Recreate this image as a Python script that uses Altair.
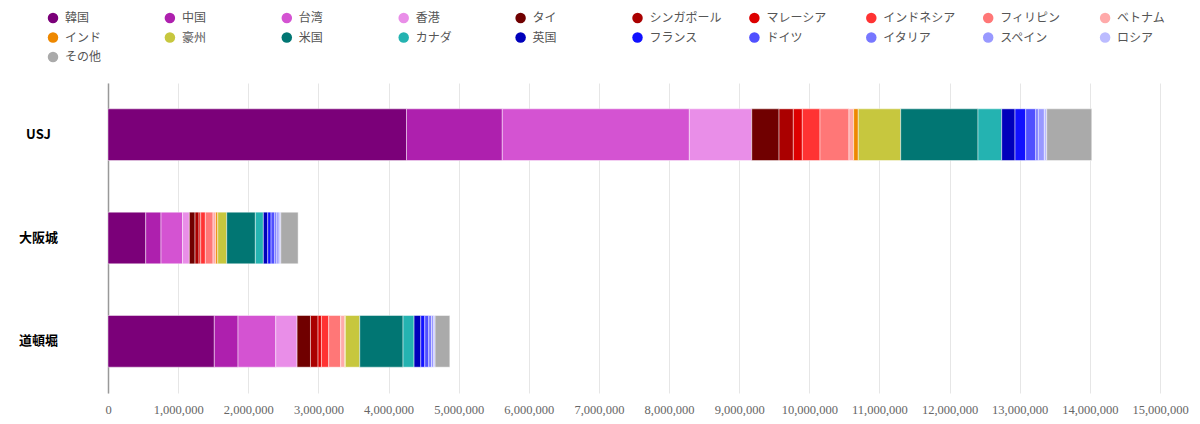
import altair as alt
import pandas as pd

places = ["USJ", "大阪城", "道頓堀"]
countries = ["韓国", "中国", "台湾", "香港", "タイ", "シンガポール", "マレーシア", "インドネシア",
             "フィリピン", "ベトナム", "インド", "豪州", "米国", "カナダ", "英国", "フランス",
             "ドイツ", "イタリア", "スペイン", "ロシア", "その他"]
colors = ["#7b0079", "#ae20ae", "#d453d2", "#e98ee8", "#700000", "#aa0000", "#dd0000", "#ff3333",
          "#ff7777", "#ffaaaa", "#ee8800", "#c7c73e", "#017673", "#24b3b1", "#0000bb", "#1111ff",
          "#5050ff", "#7777ff", "#9999ff", "#bbbbff", "#aaaaaa"]

usj = [4256000, 1366000, 2667000, 890000, 389000, 204000, 128000, 252000, 413000, 67000, 66000,
       605000, 1102000, 338000, 190000, 152000, 143000, 37000, 86000, 34000, 642000]
osakajo = [538000, 218000, 307000, 97000, 81000, 57000, 24000, 66000, 110000, 38000, 29000,
           128000, 408000, 114000, 63000, 47000, 53000, 29000, 33000, 24000, 247000]
dotonbori = [1516000, 338000, 538000, 304000, 191000, 108000, 48000, 104000, 171000, 57000, 10000,
             205000, 617000, 157000, 96000, 57000, 57000, 38000, 33000, 19000, 210000]
tick_values = [0, 1000000, 2000000, 3000000, 4000000, 5000000, 6000000, 7000000, 8000000,
               9000000, 10000000, 11000000, 12000000, 13000000, 14000000, 15000000]

rows = []
for place, vals in zip(places, [usj, osakajo, dotonbori]):
    for i, (c, v) in enumerate(zip(countries, vals)):
        rows.append({"place": place, "country": c, "value": v, "idx": i})
df = pd.DataFrame(rows)

FONT = "Noto Sans CJK JP"

chart = alt.Chart(df).mark_bar(
    stroke="#ffffff", strokeOpacity=0.45, strokeWidth=1
).encode(
    y=alt.Y("place:N", sort=places, title=None,
            scale=alt.Scale(paddingInner=0.5, paddingOuter=0.25),
            axis=alt.Axis(labelFont=FONT, labelFontSize=13, labelFontWeight="bold",
                          labelColor="#000000", labelAlign="center", labelPadding=70,
                          ticks=False, domain=True, domainColor="#999999", domainWidth=1.5,
                          grid=False)),
    x=alt.X("value:Q", title=None, stack="zero",
            scale=alt.Scale(domain=[0, 15000000], nice=False),
            axis=alt.Axis(values=tick_values, format=",d", labelOverlap=False, labelBound=False,
                          labelFlush=False,
                          labelFont="Liberation Sans Narrow", labelFontSize=12.5,
                          labelColor="#666666",
                          labelPadding=10, ticks=False, domain=False,
                          grid=True, gridColor="#e6e6e6", gridWidth=1)),
    color=alt.Color("country:N", sort=countries,
                    scale=alt.Scale(domain=countries, range=colors),
                    legend=alt.Legend(title=None, orient="none", legendX=-61, legendY=-71,
                                      columns=10, gridAlign="all", symbolType="circle",
                                      symbolSize=110, symbolStrokeWidth=0, labelFont=FONT,
                                      labelFontSize=12, labelColor="#555555", labelOffset=6,
                                      columnPadding=25.9, rowPadding=7.5, direction="horizontal")),
    order=alt.Order("idx:Q", sort="ascending"),
).properties(
    width=1052, height=310,
    autosize=alt.AutoSizeParams(type="none"),
    padding={"left": 100, "top": 75, "right": 32, "bottom": 23},
).configure_view(stroke=None)

chart.save("out.html", embed_options={"renderer": "svg", "actions": False})
